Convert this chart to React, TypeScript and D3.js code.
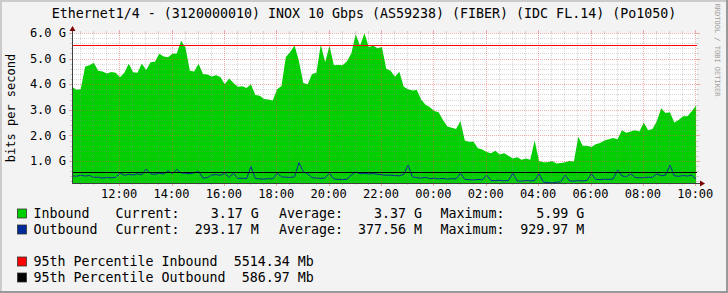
import React from "react";
import * as d3 from "d3";

const title = "Ethernet1/4 - (3120000010) INOX 10 Gbps (AS59238) (FIBER) (IDC FL.14) (Po1050)";
const yAxisTitle = "bits per second";
const watermark = "RRDTOOL / TOBI OETIKER";

const startTime = new Date(2024, 0, 1, 10, 12);
const endTime = new Date(2024, 0, 2, 10, 4);
const stepMinutes = 10;

// Inbound traffic (Gbps), one value per 10 minutes
const inbound = [
  3.90, 3.78, 3.80, 4.68, 4.74, 4.84, 4.53, 4.50, 4.42, 4.48,
  4.45, 4.27, 4.45, 4.80, 4.47, 4.45, 4.80, 4.55, 4.86, 4.88,
  5.19, 5.08, 5.05, 5.19, 5.20, 5.70, 5.43, 4.53, 4.50, 4.80,
  4.40, 4.38, 4.30, 4.35, 4.28, 4.00, 4.22, 4.05, 3.90, 3.92,
  3.85, 4.00, 3.58, 3.55, 3.42, 3.40, 3.36, 3.80, 3.93, 5.06,
  5.26, 5.51, 4.90, 4.05, 4.00, 4.40, 4.45, 5.55, 4.86, 5.50,
  4.74, 4.75, 4.74, 4.90, 5.20, 5.95, 5.50, 5.99, 5.45, 5.50,
  5.40, 5.45, 4.60, 4.53, 4.29, 4.49, 3.90, 3.80, 3.75, 3.77,
  3.40, 3.20, 3.10, 2.95, 2.90, 2.60, 2.35, 2.30, 2.25, 2.56,
  1.80, 1.75, 1.75, 1.50, 1.45, 1.35, 1.30, 1.40, 1.25, 1.30,
  1.20, 1.10, 1.15, 1.05, 1.10, 1.05, 1.80, 1.00, 0.95, 0.95,
  1.00, 0.90, 0.92, 0.95, 1.00, 0.98, 1.95, 1.60, 1.60, 1.55,
  1.65, 1.70, 1.80, 1.85, 1.90, 1.85, 2.20, 2.10, 2.15, 2.20,
  2.15, 2.50, 2.20, 2.25, 2.55, 3.06, 2.87, 2.90, 2.50, 2.60,
  2.75, 2.75, 2.94, 3.17,
];

// Outbound traffic (Gbps), one value per 10 minutes
const outbound = [
  0.42, 0.40, 0.44, 0.41, 0.43, 0.36, 0.37, 0.33, 0.36, 0.34,
  0.36, 0.53, 0.44, 0.48, 0.45, 0.50, 0.46, 0.69, 0.50, 0.48,
  0.52, 0.49, 0.62, 0.50, 0.67, 0.53, 0.52, 0.50, 0.54, 0.60,
  0.33, 0.35, 0.45, 0.47, 0.44, 0.53, 0.36, 0.52, 0.32, 0.33,
  0.31, 0.78, 0.32, 0.30, 0.29, 0.31, 0.30, 0.52, 0.38, 0.37,
  0.36, 0.38, 0.93, 0.58, 0.50, 0.35, 0.33, 0.32, 0.34, 0.52,
  0.30, 0.28, 0.27, 0.29, 0.45, 0.58, 0.50, 0.52, 0.49, 0.51,
  0.48, 0.46, 0.44, 0.45, 0.43, 0.42, 0.48, 0.84, 0.38, 0.35,
  0.33, 0.36, 0.31, 0.33, 0.30, 0.32, 0.29, 0.31, 0.30, 0.52,
  0.28, 0.27, 0.26, 0.28, 0.26, 0.45, 0.24, 0.23, 0.25, 0.22,
  0.24, 0.52, 0.22, 0.21, 0.23, 0.22, 0.24, 0.50, 0.18, 0.16,
  0.14, 0.17, 0.19, 0.45, 0.22, 0.21, 0.23, 0.22, 0.24, 0.50,
  0.28, 0.27, 0.29, 0.28, 0.30, 0.65, 0.42, 0.38, 0.50, 0.36,
  0.34, 0.35, 0.37, 0.36, 0.50, 0.42, 0.45, 0.84, 0.42, 0.40,
  0.43, 0.41, 0.44, 0.29,
];

const yMin = 0.14;
const yMax = 6.0;
const yTickValues = [1, 2, 3, 4, 5, 6];
const yTickLabels = ["1.0 G", "2.0 G", "3.0 G", "4.0 G", "5.0 G", "6.0 G"];
const xTickLabels = ["12:00", "14:00", "16:00", "18:00", "20:00", "22:00", "00:00", "02:00", "04:00", "06:00", "08:00", "10:00"];

const pct95Inbound = 5514.34; // Mb
const pct95Outbound = 586.97; // Mb

const seriesNames = ["Inbound", "Outbound"];
const currentValues = ["3.17 G", "293.17 M"];
const averageValues = ["3.37 G", "377.56 M"];
const maximumValues = ["5.99 G", "929.97 M"];
const percentileLabels = ["95th Percentile Inbound  5514.34 Mb", "95th Percentile Outbound  586.97 Mb"];

const W = 728;
const H = 293;
const L = 72;
const R = 697;
const T = 33;
const B = 183;

const FONT = "'DejaVu Sans Mono', 'Liberation Mono', monospace";
const GREEN = "#00CF00";
const BLUE = "#002A97";
const MINOR = "rgba(143,143,143,0.35)";
const MAJOR = "rgba(225,80,80,0.45)";

export default function App() {
  const x = d3.scaleTime().domain([startTime, endTime]).range([L, R]);
  const y = d3.scaleLinear().domain([yMin, yMax]).range([B, T]);
  const times = inbound.map((_, i) => new Date(startTime.getTime() + i * stepMinutes * 60000));

  const area = d3
    .area<number>()
    .x((_, i) => x(times[i]))
    .y0(y(yMin))
    .y1((d) => y(d))
    .curve(d3.curveLinear);
  const line = d3
    .line<number>()
    .x((_, i) => x(times[i]))
    .y((d) => y(d))
    .curve(d3.curveLinear);

  const majorX = d3.timeHour.every(2)!.range(startTime, endTime);
  const minorX = d3.timeMinute
    .every(30)!
    .range(startTime, endTime)
    .filter((t) => !(t.getMinutes() === 0 && t.getHours() % 2 === 0));
  const minorY = d3.range(1, 31).filter((k) => k % 5 !== 0).map((k) => k * 0.2);

  const px = (v: number) => Math.round(v) + 0.5;

  const legendRowsY = [213.5, 229.5];
  const pctRowsY = [261.5, 277.5];

  return (
    <svg
      width={W}
      height={H}
      style={{ position: "absolute", left: 0, top: 0, display: "block" }}
      fontFamily={FONT}
    >
      <rect x={0} y={0} width={W} height={H} fill="#F3F3F3" />
      {/* frame */}
      <rect x={0} y={0} width={W} height={2} fill="#CBCBCB" />
      <rect x={0} y={0} width={2} height={H} fill="#CBCBCB" />
      <rect x={0} y={H - 2} width={W} height={2} fill="#999999" />
      <rect x={W - 2} y={0} width={2} height={H} fill="#999999" />

      {/* canvas */}
      <rect x={L} y={T} width={R - L} height={B - T} fill="#FFFFFF" />

      {/* data */}
      <path d={area(inbound) || ""} fill={GREEN} />
      <path d={line(outbound) || ""} fill="none" stroke={BLUE} strokeWidth={1} />

      {/* grid */}
      <g shapeRendering="crispEdges">
        {minorY.map((v, i) => (
          <g key={"my" + i}>
            <line x1={L} x2={R} y1={px(y(v))} y2={px(y(v))} stroke={MINOR} strokeDasharray="1,1" />
            <line x1={L - 2} x2={L} y1={px(y(v))} y2={px(y(v))} stroke={MINOR} />
            <line x1={R} x2={R + 2} y1={px(y(v))} y2={px(y(v))} stroke={MINOR} />
          </g>
        ))}
        {minorX.map((t, i) => (
          <g key={"mx" + i}>
            <line x1={px(x(t))} x2={px(x(t))} y1={T} y2={B} stroke={MINOR} strokeDasharray="1,1" />
            <line x1={px(x(t))} x2={px(x(t))} y1={B} y2={B + 2} stroke={MINOR} />
            <line x1={px(x(t))} x2={px(x(t))} y1={T - 2} y2={T} stroke={MINOR} />
          </g>
        ))}
        {yTickValues.map((v, i) => (
          <g key={"My" + i}>
            <line x1={L} x2={R} y1={px(y(v))} y2={px(y(v))} stroke={MAJOR} strokeDasharray="1,1" />
            <line x1={L - 3} x2={L} y1={px(y(v))} y2={px(y(v))} stroke={MAJOR} />
            <line x1={R} x2={R + 3} y1={px(y(v))} y2={px(y(v))} stroke={MAJOR} />
          </g>
        ))}
        {majorX.map((t, i) => (
          <g key={"Mx" + i}>
            <line x1={px(x(t))} x2={px(x(t))} y1={T} y2={B} stroke={MAJOR} strokeDasharray="1,1" />
            <line x1={px(x(t))} x2={px(x(t))} y1={B} y2={B + 3} stroke={MAJOR} />
            <line x1={px(x(t))} x2={px(x(t))} y1={T - 3} y2={T} stroke={MAJOR} />
          </g>
        ))}
      </g>

      {/* percentile rules */}
      <g shapeRendering="crispEdges">
        <line x1={L} x2={R} y1={px(y(pct95Inbound / 1000))} y2={px(y(pct95Inbound / 1000))} stroke="#FF0000" />
        <line x1={L} x2={R} y1={px(y(pct95Outbound / 1000))} y2={px(y(pct95Outbound / 1000))} stroke="#000000" />
      </g>

      {/* axes */}
      <g shapeRendering="crispEdges">
        <line x1={L + 0.5} x2={L + 0.5} y1={T - 4} y2={B + 1} stroke="#404040" />
        <line x1={L} x2={R + 4} y1={B + 0.5} y2={B + 0.5} stroke="#404040" />
      </g>
      <path d={`M${L + 0.5},${T - 7} L${L - 2.5},${T - 2} L${L + 3.5},${T - 2} Z`} fill="#7F0000" />
      <path d={`M${R + 8},${B + 0.5} L${R + 3},${B - 2.5} L${R + 3},${B + 3.5} Z`} fill="#7F0000" />

      {/* y labels */}
      {yTickValues.map((v, i) => (
        <text key={"yl" + i} x={66} y={y(v) + 4.3} textAnchor="end" fontSize={12} fill="#000">
          {yTickLabels[i]}
        </text>
      ))}
      {/* x labels */}
      {majorX.map((t, i) => (
        <text key={"xl" + i} x={x(t)} y={197.5} textAnchor="middle" fontSize={12} fill="#000">
          {xTickLabels[i]}
        </text>
      ))}

      {/* titles */}
      <text x={W / 2} y={17.5} textAnchor="middle" fontSize={13.3} fill="#000">
        {title}
      </text>
      <text
        transform={`translate(14.5,${(T + B) / 2}) rotate(-90)`}
        textAnchor="middle"
        fontSize={12}
        fill="#000"
      >
        {yAxisTitle}
      </text>
      <text
        transform={`translate(715,${50}) rotate(90)`}
        textAnchor="middle"
        fontSize={7}
        fill="#A0A0A0"
      >
        {watermark}
      </text>

      {/* legend */}
      {seriesNames.map((name, i) => {
        const cy = legendRowsY[i];
        const base = cy + 4.8;
        return (
          <g key={"lg" + i} fontSize={13.3} fill="#000">
            <rect x={17.5} y={cy - 4.5} width={9} height={9} fill={i === 0 ? GREEN : BLUE} stroke="#333" strokeWidth={0.8} />
            <text x={33.5} y={base}>{name}</text>
            <text x={115.5} y={base}>Current:</text>
            <text x={258.7} y={base} textAnchor="end">{currentValues[i]}</text>
            <text x={279} y={base}>Average:</text>
            <text x={422} y={base} textAnchor="end">{averageValues[i]}</text>
            <text x={440.5} y={base}>Maximum:</text>
            <text x={584.3} y={base} textAnchor="end">{maximumValues[i]}</text>
          </g>
        );
      })}
      {percentileLabels.map((lab, i) => {
        const cy = pctRowsY[i];
        return (
          <g key={"pl" + i} fontSize={13.3} fill="#000">
            <rect x={17.5} y={cy - 4.5} width={9} height={9} fill={i === 0 ? "#FF0000" : "#000000"} stroke="#333" strokeWidth={0.8} />
            <text x={33.5} y={cy + 4.8} style={{ whiteSpace: "pre" }}>{lab}</text>
          </g>
        );
      })}
    </svg>
  );
}
